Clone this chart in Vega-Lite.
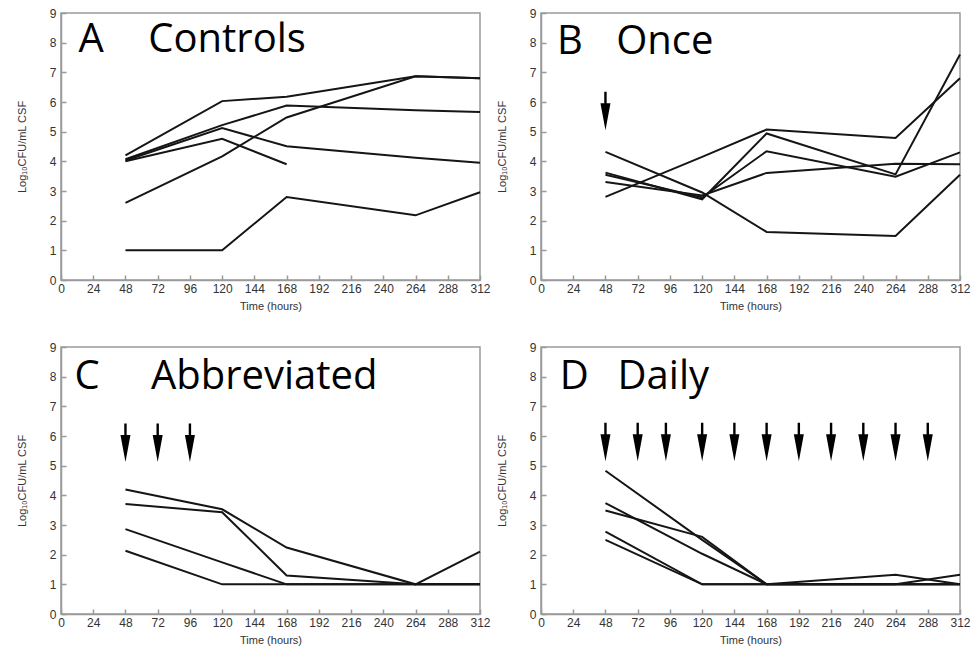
{
  "$schema": "https://vega.github.io/schema/vega-lite/v6.json",
  "background": "white",
  "padding": {"left": 15, "top": 6, "right": 0, "bottom": 0},
  "bounds": "flush",
  "spacing": {"row": 67, "column": 61},
  "columns": 2,
  "datasets": {
    "A": [
      {"subject": "A1", "time": 48, "value": 4.2}, {"subject": "A1", "time": 120, "value": 6.03}, {"subject": "A1", "time": 168, "value": 6.18}, {"subject": "A1", "time": 264, "value": 6.87}, {"subject": "A1", "time": 312, "value": 6.8},
      {"subject": "A2", "time": 48, "value": 4.07}, {"subject": "A2", "time": 120, "value": 5.22}, {"subject": "A2", "time": 168, "value": 5.88}, {"subject": "A2", "time": 264, "value": 5.72}, {"subject": "A2", "time": 312, "value": 5.66},
      {"subject": "A3", "time": 48, "value": 4.03}, {"subject": "A3", "time": 120, "value": 5.12}, {"subject": "A3", "time": 168, "value": 4.51}, {"subject": "A3", "time": 264, "value": 4.12}, {"subject": "A3", "time": 312, "value": 3.95},
      {"subject": "A4", "time": 48, "value": 4.0}, {"subject": "A4", "time": 120, "value": 4.76}, {"subject": "A4", "time": 168, "value": 3.9},
      {"subject": "A5", "time": 48, "value": 1.0}, {"subject": "A5", "time": 120, "value": 1.0}, {"subject": "A5", "time": 168, "value": 2.8}, {"subject": "A5", "time": 264, "value": 2.18}, {"subject": "A5", "time": 312, "value": 2.96},
      {"subject": "A6", "time": 48, "value": 2.6}, {"subject": "A6", "time": 120, "value": 4.17}, {"subject": "A6", "time": 168, "value": 5.48}, {"subject": "A6", "time": 264, "value": 6.87}, {"subject": "A6", "time": 312, "value": 6.8}
    ],
    "B": [
      {"subject": "B1", "time": 48, "value": 4.32}, {"subject": "B1", "time": 120, "value": 2.95}, {"subject": "B1", "time": 168, "value": 1.62}, {"subject": "B1", "time": 264, "value": 1.48}, {"subject": "B1", "time": 312, "value": 3.55},
      {"subject": "B2", "time": 48, "value": 2.8}, {"subject": "B2", "time": 120, "value": 4.15}, {"subject": "B2", "time": 168, "value": 5.07}, {"subject": "B2", "time": 264, "value": 4.79}, {"subject": "B2", "time": 312, "value": 6.8},
      {"subject": "B3", "time": 48, "value": 3.62}, {"subject": "B3", "time": 120, "value": 2.72}, {"subject": "B3", "time": 168, "value": 4.94}, {"subject": "B3", "time": 264, "value": 3.56}, {"subject": "B3", "time": 312, "value": 7.6},
      {"subject": "B4", "time": 48, "value": 3.55}, {"subject": "B4", "time": 120, "value": 2.78}, {"subject": "B4", "time": 168, "value": 4.34}, {"subject": "B4", "time": 264, "value": 3.48}, {"subject": "B4", "time": 312, "value": 4.3},
      {"subject": "B5", "time": 48, "value": 3.3}, {"subject": "B5", "time": 120, "value": 2.85}, {"subject": "B5", "time": 168, "value": 3.61}, {"subject": "B5", "time": 264, "value": 3.92}, {"subject": "B5", "time": 312, "value": 3.9}
    ],
    "C": [
      {"subject": "C1", "time": 48, "value": 4.2}, {"subject": "C1", "time": 120, "value": 3.53}, {"subject": "C1", "time": 168, "value": 2.24}, {"subject": "C1", "time": 264, "value": 1.0}, {"subject": "C1", "time": 312, "value": 2.1},
      {"subject": "C2", "time": 48, "value": 3.71}, {"subject": "C2", "time": 120, "value": 3.43}, {"subject": "C2", "time": 168, "value": 1.3}, {"subject": "C2", "time": 264, "value": 1.0}, {"subject": "C2", "time": 312, "value": 1.0},
      {"subject": "C3", "time": 48, "value": 2.86}, {"subject": "C3", "time": 120, "value": 1.74}, {"subject": "C3", "time": 168, "value": 1.0}, {"subject": "C3", "time": 264, "value": 1.0}, {"subject": "C3", "time": 312, "value": 1.0},
      {"subject": "C4", "time": 48, "value": 2.13}, {"subject": "C4", "time": 120, "value": 1.0}, {"subject": "C4", "time": 168, "value": 1.0}, {"subject": "C4", "time": 264, "value": 1.0}, {"subject": "C4", "time": 312, "value": 1.0}
    ],
    "D": [
      {"subject": "D1", "time": 48, "value": 4.83}, {"subject": "D1", "time": 120, "value": 2.5}, {"subject": "D1", "time": 168, "value": 1.0}, {"subject": "D1", "time": 264, "value": 1.32}, {"subject": "D1", "time": 312, "value": 1.0},
      {"subject": "D2", "time": 48, "value": 3.74}, {"subject": "D2", "time": 120, "value": 2.03}, {"subject": "D2", "time": 168, "value": 1.0}, {"subject": "D2", "time": 264, "value": 1.0}, {"subject": "D2", "time": 312, "value": 1.32},
      {"subject": "D3", "time": 48, "value": 3.49}, {"subject": "D3", "time": 120, "value": 2.6}, {"subject": "D3", "time": 168, "value": 1.0}, {"subject": "D3", "time": 264, "value": 1.0}, {"subject": "D3", "time": 312, "value": 1.0},
      {"subject": "D4", "time": 48, "value": 2.78}, {"subject": "D4", "time": 120, "value": 1.0}, {"subject": "D4", "time": 168, "value": 1.0}, {"subject": "D4", "time": 264, "value": 1.0}, {"subject": "D4", "time": 312, "value": 1.0},
      {"subject": "D5", "time": 48, "value": 2.5}, {"subject": "D5", "time": 120, "value": 1.0}, {"subject": "D5", "time": 168, "value": 1.0}, {"subject": "D5", "time": 264, "value": 1.0}, {"subject": "D5", "time": 312, "value": 1.0}
    ],
    "arrowsB": [{"time": 48}],
    "arrowsC": [{"time": 48}, {"time": 72}, {"time": 96}],
    "arrowsD": [{"time": 48}, {"time": 72}, {"time": 93}, {"time": 120}, {"time": 144}, {"time": 168}, {"time": 192}, {"time": 216}, {"time": 240}, {"time": 264}, {"time": 288}],
    "labels": [
      {"panel": "A", "letter": "A", "word": "Controls", "lx": 13, "wx": 65},
      {"panel": "B", "letter": "B", "word": "Once", "lx": 12, "wx": 56},
      {"panel": "C", "letter": "C", "word": "Abbreviated", "lx": 10, "wx": 67},
      {"panel": "D", "letter": "D", "word": "Daily", "lx": 14, "wx": 57}
    ]
  },
  "config": {
    "view": {"stroke": "#9a9a9a", "strokeWidth": 1.5},
    "axis": {
      "grid": false,
      "domainColor": "#9a9a9a",
      "domainWidth": 1.5,
      "tickColor": "#9a9a9a",
      "tickWidth": 1.5,
      "tickSize": -5,
      "labelOverlap": false,
      "labelFont": "Liberation Sans",
      "labelFontSize": 12,
      "labelColor": "#333333",
      "titleFont": "Liberation Sans",
      "titleFontSize": 11,
      "titleFontWeight": "normal",
      "titleColor": "#333333"
    },
    "line": {"color": "#151515", "strokeWidth": 2}
  },
  "concat": [
    {
      "width": 419, "height": 267,
      "layer": [
        {"data": {"name": "A"}, "mark": {"type": "line"},
         "encoding": {
           "x": {"field": "time", "type": "quantitative", "scale": {"domain": [0, 312], "nice": false}, "axis": {"values": [0,24,48,72,96,120,144,168,192,216,240,264,288,312], "tickCount": 20, "format": "d", "labelFlush": false, "title": "Time (hours)", "labelPadding": 8, "titlePadding": 6}},
           "y": {"field": "value", "type": "quantitative", "scale": {"domain": [0, 9], "nice": false}, "axis": {"values": [0,1,2,3,4,5,6,7,8,9], "tickCount": 20, "format": "d", "labelFlush": false, "title": "Log₁₀CFU/mL CSF", "labelPadding": 10, "titlePadding": 22}},
           "detail": {"field": "subject"}
         }},
        {"data": {"name": "labels"}, "transform": [{"filter": "datum.panel === 'A'"}], "mark": {"type": "text", "font": "Open Sans", "fontSize": 40, "color": "#000000", "align": "left", "baseline": "alphabetic"},
         "encoding": {"x": {"field": "lx", "type": "quantitative"}, "y": {"datum": 7.68}, "text": {"field": "letter"}}},
        {"data": {"name": "labels"}, "transform": [{"filter": "datum.panel === 'A'"}], "mark": {"type": "text", "font": "Open Sans", "fontSize": 40, "color": "#000000", "align": "left", "baseline": "alphabetic"},
         "encoding": {"x": {"field": "wx", "type": "quantitative"}, "y": {"datum": 7.68}, "text": {"field": "word"}}}
      ]
    },
    {
      "width": 419, "height": 267,
      "layer": [
        {"data": {"name": "B"}, "mark": {"type": "line"},
         "encoding": {
           "x": {"field": "time", "type": "quantitative", "scale": {"domain": [0, 312], "nice": false}, "axis": {"values": [0,24,48,72,96,120,144,168,192,216,240,264,288,312], "tickCount": 20, "format": "d", "labelFlush": false, "title": "Time (hours)", "labelPadding": 8, "titlePadding": 6}},
           "y": {"field": "value", "type": "quantitative", "scale": {"domain": [0, 9], "nice": false}, "axis": {"values": [0,1,2,3,4,5,6,7,8,9], "tickCount": 20, "format": "d", "labelFlush": false, "title": "Log₁₀CFU/mL CSF", "labelPadding": 10, "titlePadding": 22}},
           "detail": {"field": "subject"}
         }},
        {"data": {"name": "arrowsB"}, "mark": {"type": "point", "shape": "M-0.12,-2.5L0.12,-2.5L0.12,-1.35L0.5,-1.35L0,1.35L-0.5,-1.35L-0.12,-1.35Z", "size": 400, "filled": true, "color": "#000000", "opacity": 1},
         "encoding": {"x": {"field": "time", "type": "quantitative"}, "y": {"datum": 5.5}}},
        {"data": {"name": "labels"}, "transform": [{"filter": "datum.panel === 'B'"}], "mark": {"type": "text", "font": "Open Sans", "fontSize": 40, "color": "#000000", "align": "left", "baseline": "alphabetic"},
         "encoding": {"x": {"field": "lx", "type": "quantitative"}, "y": {"datum": 7.63}, "text": {"field": "letter"}}},
        {"data": {"name": "labels"}, "transform": [{"filter": "datum.panel === 'B'"}], "mark": {"type": "text", "font": "Open Sans", "fontSize": 40, "color": "#000000", "align": "left", "baseline": "alphabetic"},
         "encoding": {"x": {"field": "wx", "type": "quantitative"}, "y": {"datum": 7.63}, "text": {"field": "word"}}}
      ]
    },
    {
      "width": 419, "height": 267,
      "layer": [
        {"data": {"name": "C"}, "mark": {"type": "line"},
         "encoding": {
           "x": {"field": "time", "type": "quantitative", "scale": {"domain": [0, 312], "nice": false}, "axis": {"values": [0,24,48,72,96,120,144,168,192,216,240,264,288,312], "tickCount": 20, "format": "d", "labelFlush": false, "title": "Time (hours)", "labelPadding": 8, "titlePadding": 6}},
           "y": {"field": "value", "type": "quantitative", "scale": {"domain": [0, 9], "nice": false}, "axis": {"values": [0,1,2,3,4,5,6,7,8,9], "tickCount": 20, "format": "d", "labelFlush": false, "title": "Log₁₀CFU/mL CSF", "labelPadding": 10, "titlePadding": 22}},
           "detail": {"field": "subject"}
         }},
        {"data": {"name": "arrowsC"}, "mark": {"type": "point", "shape": "M-0.12,-2.5L0.12,-2.5L0.12,-1.35L0.5,-1.35L0,1.35L-0.5,-1.35L-0.12,-1.35Z", "size": 400, "filled": true, "color": "#000000", "opacity": 1},
         "encoding": {"x": {"field": "time", "type": "quantitative"}, "y": {"datum": 5.58}}},
        {"data": {"name": "labels"}, "transform": [{"filter": "datum.panel === 'C'"}], "mark": {"type": "text", "font": "Open Sans", "fontSize": 40, "color": "#000000", "align": "left", "baseline": "alphabetic"},
         "encoding": {"x": {"field": "lx", "type": "quantitative"}, "y": {"datum": 7.57}, "text": {"field": "letter"}}},
        {"data": {"name": "labels"}, "transform": [{"filter": "datum.panel === 'C'"}], "mark": {"type": "text", "font": "Open Sans", "fontSize": 40, "color": "#000000", "align": "left", "baseline": "alphabetic"},
         "encoding": {"x": {"field": "wx", "type": "quantitative"}, "y": {"datum": 7.57}, "text": {"field": "word"}}}
      ]
    },
    {
      "width": 419, "height": 267,
      "layer": [
        {"data": {"name": "D"}, "mark": {"type": "line"},
         "encoding": {
           "x": {"field": "time", "type": "quantitative", "scale": {"domain": [0, 312], "nice": false}, "axis": {"values": [0,24,48,72,96,120,144,168,192,216,240,264,288,312], "tickCount": 20, "format": "d", "labelFlush": false, "title": "Time (hours)", "labelPadding": 8, "titlePadding": 6}},
           "y": {"field": "value", "type": "quantitative", "scale": {"domain": [0, 9], "nice": false}, "axis": {"values": [0,1,2,3,4,5,6,7,8,9], "tickCount": 20, "format": "d", "labelFlush": false, "title": "Log₁₀CFU/mL CSF", "labelPadding": 10, "titlePadding": 22}},
           "detail": {"field": "subject"}
         }},
        {"data": {"name": "arrowsD"}, "mark": {"type": "point", "shape": "M-0.12,-2.5L0.12,-2.5L0.12,-1.35L0.5,-1.35L0,1.35L-0.5,-1.35L-0.12,-1.35Z", "size": 400, "filled": true, "color": "#000000", "opacity": 1},
         "encoding": {"x": {"field": "time", "type": "quantitative"}, "y": {"datum": 5.6}}},
        {"data": {"name": "labels"}, "transform": [{"filter": "datum.panel === 'D'"}], "mark": {"type": "text", "font": "Open Sans", "fontSize": 40, "color": "#000000", "align": "left", "baseline": "alphabetic"},
         "encoding": {"x": {"field": "lx", "type": "quantitative"}, "y": {"datum": 7.58}, "text": {"field": "letter"}}},
        {"data": {"name": "labels"}, "transform": [{"filter": "datum.panel === 'D'"}], "mark": {"type": "text", "font": "Open Sans", "fontSize": 40, "color": "#000000", "align": "left", "baseline": "alphabetic"},
         "encoding": {"x": {"field": "wx", "type": "quantitative"}, "y": {"datum": 7.58}, "text": {"field": "word"}}}
      ]
    }
  ]
}
